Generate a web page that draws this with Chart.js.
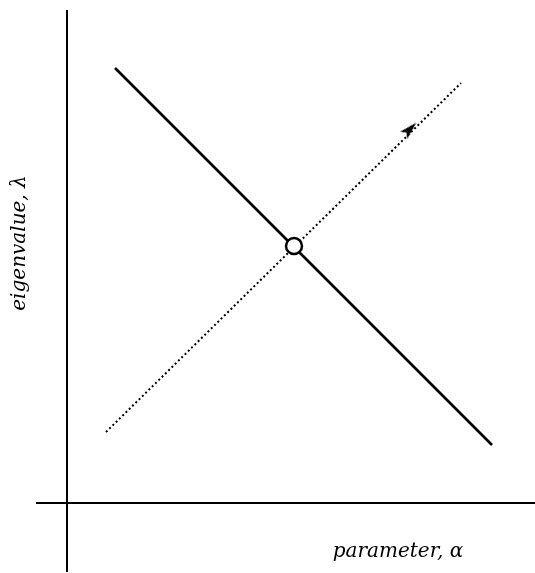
<!DOCTYPE html>
<html>
<head>
<meta charset="utf-8">
<script src="https://cdn.jsdelivr.net/npm/chart.js@4/dist/chart.umd.min.js"></script>
<style>
  html, body { margin: 0; padding: 0; background: #fff; }
  #wrap { width: 535px; height: 573px; }
</style>
</head>
<body>
<div id="wrap"><canvas id="eigenChart" width="535" height="573"></canvas></div>
<script>
// parameter alpha along x, eigenvalue lambda along y
const alphaRange = [-0.67, 4.68];
const lambdaRange = [-0.70, 5.03];

// stable branch (solid) and unstable branch (dotted)
const solidAlpha = [0.48, 4.25];
const solidLambda = [4.35, 0.58];
const dottedAlpha = [0.39, 3.94];
const dottedLambda = [0.71, 4.20];

// crossing point and direction arrow on the dotted branch
const crossAlpha = [2.27];
const crossLambda = [2.57];
const arrowAlpha = [3.43];
const arrowLambda = [3.74];

// axis extents
const vAxisLambda = [-0.69, 4.93];
const hAxisAlpha = [-0.31, 4.68];

const xLabel = "parameter, \u03b1";
const yLabel = "eigenvalue, \u03bb";

const pts = (xs, ys) => xs.map((x, i) => ({ x, y: ys[i] }));

// elongated arrowhead, pointing up before rotation
function arrowHead() {
  const c = document.createElement("canvas");
  c.width = 10; c.height = 18;
  const g = c.getContext("2d");
  g.fillStyle = "#000";
  g.beginPath();
  g.moveTo(5, 0);
  g.lineTo(10, 18);
  g.lineTo(5, 14);
  g.lineTo(0, 18);
  g.closePath();
  g.fill();
  return c;
}

const labelsPlugin = {
  id: "axisLabels",
  afterDraw(chart) {
    const { ctx } = chart;
    ctx.save();
    ctx.fillStyle = "#000";
    ctx.font = "italic 20px 'DejaVu Serif', serif";
    ctx.textAlign = "center";
    ctx.textBaseline = "alphabetic";
    ctx.fillText(xLabel, 398, 557);
    ctx.translate(25, 243);
    ctx.rotate(-Math.PI / 2);
    ctx.fillText(yLabel, 0, 0);
    ctx.restore();
  }
};

const lineSet = (data, extra) => Object.assign({
  data,
  showLine: true,
  borderColor: "#000",
  pointRadius: 0,
  fill: false,
}, extra);

new Chart(document.getElementById("eigenChart"), {
  type: "scatter",
  data: {
    datasets: [
      {
        data: pts(crossAlpha, crossLambda),
        pointStyle: "circle",
        pointRadius: 8,
        backgroundColor: "#fff",
        borderColor: "#000",
        borderWidth: 2.5,
        order: 0,
      },
      {
        data: pts(arrowAlpha, arrowLambda),
        pointStyle: arrowHead(),
        rotation: 45,
        order: 0,
      },
      lineSet(pts(solidAlpha, solidLambda), { borderWidth: 2.6, order: 1 }),
      lineSet(pts(dottedAlpha, dottedLambda), { borderWidth: 2, borderDash: [2, 2.6], order: 1 }),
      lineSet([{ x: 0, y: vAxisLambda[0] }, { x: 0, y: vAxisLambda[1] }], { borderWidth: 2, order: 2 }),
      lineSet([{ x: hAxisAlpha[0], y: 0 }, { x: hAxisAlpha[1], y: 0 }], { borderWidth: 2, order: 2 }),
    ],
  },
  options: {
    responsive: false,
    animation: false,
    layout: { padding: 0, autoPadding: false },
    plugins: { legend: { display: false }, tooltip: { enabled: false } },
    scales: {
      x: { type: "linear", min: alphaRange[0], max: alphaRange[1], display: false },
      y: { type: "linear", min: lambdaRange[0], max: lambdaRange[1], display: false },
    },
  },
  plugins: [labelsPlugin],
});
</script>
</body>
</html>
